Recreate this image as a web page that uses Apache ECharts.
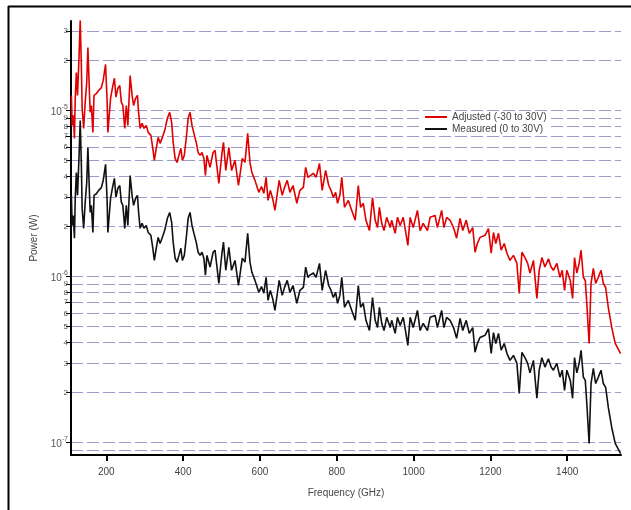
<!DOCTYPE html>
<html><head><meta charset="utf-8">
<script src="https://cdn.jsdelivr.net/npm/echarts@6/dist/echarts.min.js"></script>
<style>html,body{margin:0;padding:0;background:#fff}#c{width:631px;height:510px}</style>
</head><body><div id="c"></div>
<script>
// Frequency (GHz)
const freq = [109,111,114,117,119,122,125,129,132,135,137,141,145,149,152,156,158,161,165,168,174,180,187,192,198,202,204,208,211,216,221,225,230,235,239,243,248,252,256,262,267,271,276,281,284,288,293,298,304,309,316,321,325,330,335,340,345,352,359,365,370,374,379,384,389,394,398,403,408,413,418,423,428,434,439,444,449,454,458,462,
465,470,478,483,493,501,505,511,519,526,535,544,554,561,568,574,579,587,597,604,610,616,621,627,633,639,650,658,664,671,678,686,696,704,713,719,725,730,739,746,755,762,771,779,785,791,797,802,808,813,820,
830,839,848,856,862,869,876,885,893,900,906,911,917,923,930,939,943,952,958,965,973,980,985,991,999,1010,1017,1025,1036,1043,1056,1062,1073,1079,1086,1095,1104,1112,1121,1128,1137,1145,1154,1160,1166,1173,
1186,1195,1202,1208,1214,1221,1228,1236,1243,1251,1260,1269,1275,1282,1290,1297,1303,1312,1321,1327,1334,1342,1351,1358,1364,1373,1381,1387,1393,1399,1408,1414,1419,1425,1431,1436,1442,1447,1451,1457,1462,1468,1474,1481,1488,1494,1500,1507,1516,1525,1539];

// Adjusted (-30 to 30V), Power (W)
const adjusted = [12.3e-6,8.12e-6,9.33e-6,6.78e-6,11.8e-6,16.9e-6,12.3e-6,21.4e-6,34.8e-6,18.7e-6,10.3e-6,7.79e-6,11.2e-6,14.8e-6,23.9e-6,12.8e-6,9.73e-6,10.7e-6,7.37e-6,12.3e-6,12.6e-6,13.2e-6,13.7e-6,15.2e-6,18.9e-6,11.5e-6,7.37e-6,7.27e-6,11.8e-6,13.7e-6,15.6e-6,12.0e-6,13.6e-6,14.1e-6,11.2e-6,10.7e-6,7.79e-6,10.7e-6,8.12e-6,16.2e-6,12.3e-6,10.7e-6,11.8e-6,12.3e-6,9.73e-6,7.79e-6,8.36e-6,7.79e-6,8.12e-6,7.37e-6,7.07e-6,5.91e-6,5.00e-6,5.91e-6,6.88e-6,6.33e-6,6.78e-6,7.58e-6,8.96e-6,9.73e-6,8.47e-6,6.42e-6,5.14e-6,4.86e-6,5.36e-6,5.91e-6,5.00e-6,5.36e-6,6.78e-6,8.96e-6,9.73e-6,8.12e-6,7.27e-6,6.42e-6,5.58e-6,5.36e-6,5.58e-6,5.14e-6,4.06e-6,5.36e-6,
5.28e-6,4.54e-6,5.58e-6,5.74e-6,3.63e-6,5.51e-6,6.42e-6,4.35e-6,5.99e-6,4.35e-6,5.00e-6,3.53e-6,5.14e-6,4.86e-6,7.27e-6,4.86e-6,4.23e-6,3.79e-6,3.21e-6,3.48e-6,3.17e-6,3.95e-6,2.87e-6,3.30e-6,2.95e-6,2.50e-6,3.79e-6,3.08e-6,3.44e-6,3.79e-6,3.21e-6,3.53e-6,2.76e-6,3.30e-6,3.44e-6,4.54e-6,3.95e-6,4.06e-6,4.18e-6,3.95e-6,4.79e-6,3.30e-6,4.35e-6,3.53e-6,3.30e-6,2.99e-6,3.21e-6,2.76e-6,3.08e-6,3.95e-6,2.61e-6,
2.87e-6,2.50e-6,2.18e-6,3.53e-6,2.61e-6,2.76e-6,2.18e-6,1.89e-6,2.99e-6,2.18e-6,1.97e-6,2.61e-6,2.09e-6,1.89e-6,2.27e-6,1.97e-6,2.18e-6,1.82e-6,2.27e-6,2.03e-6,2.27e-6,1.82e-6,1.54e-6,2.27e-6,1.97e-6,2.50e-6,1.89e-6,2.09e-6,1.89e-6,2.27e-6,2.33e-6,1.97e-6,2.50e-6,1.97e-6,2.27e-6,2.18e-6,1.97e-6,1.70e-6,2.24e-6,1.89e-6,2.18e-6,1.82e-6,1.97e-6,1.40e-6,1.58e-6,1.72e-6,
1.77e-6,1.94e-6,1.38e-6,1.84e-6,1.58e-6,1.82e-6,1.44e-6,1.58e-6,1.38e-6,1.25e-6,1.34e-6,1.20e-6,0.790e-6,1.40e-6,1.30e-6,1.20e-6,1.05e-6,1.25e-6,0.738e-6,1.09e-6,1.30e-6,1.14e-6,1.28e-6,1.14e-6,1.09e-6,1.20e-6,0.990e-6,1.09e-6,0.824e-6,1.09e-6,0.946e-6,0.738e-6,1.30e-6,1.05e-6,1.20e-6,1.44e-6,0.990e-6,0.946e-6,0.688e-6,0.396e-6,0.908e-6,1.12e-6,0.908e-6,0.990e-6,1.09e-6,0.908e-6,0.859e-6,0.650e-6,0.493e-6,0.396e-6,0.343e-6];

// Measured (0 to 30V), Power (W)
const measured = [3.08e-6,2.03e-6,2.33e-6,1.70e-6,2.95e-6,4.23e-6,3.08e-6,5.35e-6,8.70e-6,4.68e-6,2.58e-6,1.95e-6,2.80e-6,3.70e-6,5.98e-6,3.20e-6,2.43e-6,2.68e-6,1.84e-6,3.08e-6,3.15e-6,3.30e-6,3.43e-6,3.80e-6,4.73e-6,2.88e-6,1.84e-6,1.82e-6,2.95e-6,3.43e-6,3.90e-6,3.00e-6,3.40e-6,3.53e-6,2.80e-6,2.68e-6,1.95e-6,2.68e-6,2.03e-6,4.05e-6,3.08e-6,2.68e-6,2.95e-6,3.08e-6,2.43e-6,1.95e-6,2.09e-6,1.95e-6,2.03e-6,1.84e-6,1.77e-6,1.48e-6,1.25e-6,1.48e-6,1.72e-6,1.58e-6,1.70e-6,1.90e-6,2.24e-6,2.43e-6,2.12e-6,1.61e-6,1.29e-6,1.22e-6,1.34e-6,1.48e-6,1.25e-6,1.34e-6,1.70e-6,2.24e-6,2.43e-6,2.03e-6,1.82e-6,1.61e-6,1.40e-6,1.34e-6,1.40e-6,1.29e-6,1.02e-6,1.34e-6,
1.32e-6,1.14e-6,1.40e-6,1.44e-6,0.908e-6,1.38e-6,1.61e-6,1.09e-6,1.50e-6,1.09e-6,1.25e-6,0.883e-6,1.29e-6,1.22e-6,1.82e-6,1.22e-6,1.06e-6,0.948e-6,0.803e-6,0.870e-6,0.793e-6,0.988e-6,0.718e-6,0.825e-6,0.738e-6,0.625e-6,0.948e-6,0.770e-6,0.860e-6,0.948e-6,0.803e-6,0.883e-6,0.690e-6,0.825e-6,0.860e-6,1.14e-6,0.988e-6,1.02e-6,1.05e-6,0.988e-6,1.20e-6,0.825e-6,1.09e-6,0.883e-6,0.825e-6,0.748e-6,0.803e-6,0.690e-6,0.770e-6,0.988e-6,0.653e-6,
0.718e-6,0.625e-6,0.545e-6,0.883e-6,0.653e-6,0.690e-6,0.545e-6,0.473e-6,0.748e-6,0.545e-6,0.493e-6,0.653e-6,0.523e-6,0.473e-6,0.568e-6,0.493e-6,0.545e-6,0.455e-6,0.568e-6,0.508e-6,0.568e-6,0.455e-6,0.385e-6,0.568e-6,0.493e-6,0.625e-6,0.473e-6,0.523e-6,0.473e-6,0.568e-6,0.583e-6,0.493e-6,0.625e-6,0.493e-6,0.568e-6,0.545e-6,0.493e-6,0.425e-6,0.560e-6,0.473e-6,0.545e-6,0.455e-6,0.493e-6,0.350e-6,0.395e-6,0.430e-6,
0.443e-6,0.485e-6,0.345e-6,0.460e-6,0.395e-6,0.455e-6,0.360e-6,0.395e-6,0.345e-6,0.313e-6,0.335e-6,0.300e-6,0.198e-6,0.350e-6,0.325e-6,0.300e-6,0.263e-6,0.313e-6,0.185e-6,0.273e-6,0.325e-6,0.285e-6,0.320e-6,0.285e-6,0.273e-6,0.300e-6,0.248e-6,0.273e-6,0.206e-6,0.273e-6,0.237e-6,0.185e-6,0.325e-6,0.263e-6,0.300e-6,0.360e-6,0.248e-6,0.237e-6,0.172e-6,0.099e-6,0.227e-6,0.280e-6,0.227e-6,0.248e-6,0.273e-6,0.227e-6,0.215e-6,0.163e-6,0.123e-6,0.099e-6,0.0858e-6];

const seriesNames = ['Adjusted (-30 to 30V)', 'Measured (0 to 30V)'];
const xTicks = [200, 400, 600, 800, 1000, 1200, 1400];
const yTicks = [9e-8, 1e-7, 2e-7, 3e-7, 4e-7, 5e-7, 6e-7, 7e-7, 8e-7, 9e-7,
  1e-6, 2e-6, 3e-6, 4e-6, 5e-6, 6e-6, 7e-6, 8e-6, 9e-6, 1e-5, 2e-5, 3e-5];

function yLabel(v) {
  const e = Math.floor(Math.log10(v) + 1e-9);
  const m = Math.round(v / Math.pow(10, e));
  if (m === 1) return '{maj|10}{sup|' + e + '}';
  return '{min|' + m + '}';
}

const FONT = '"Liberation Sans", Arial, sans-serif';
const chart = echarts.init(document.getElementById('c'), null, {renderer: 'canvas'});
chart.setOption({
  animation: false,
  backgroundColor: '#fff',
  textStyle: {fontFamily: FONT},
  grid: {left: 71, right: 10, top: 21, bottom: 55, containLabel: false},
  graphic: [
    {type: 'line', shape: {x1: 8, y1: 6.5, x2: 640, y2: 6.5}, style: {stroke: '#000', lineWidth: 2}},
    {type: 'line', shape: {x1: 8.5, y1: 6, x2: 8.5, y2: 520}, style: {stroke: '#000', lineWidth: 2}}
  ],
  legend: {
    orient: 'vertical', left: 421, top: 111,
    data: seriesNames,
    icon: 'rect', itemWidth: 22, itemHeight: 2, itemGap: 2,
    backgroundColor: '#fff', padding: [1, 4, 1, 4],
    textStyle: {fontSize: 10, color: '#444', fontFamily: FONT}
  },
  xAxis: {
    type: 'value', min: 108, max: 1540,
    name: 'Frequency (GHz)', nameLocation: 'middle', nameGap: 33,
    nameTextStyle: {fontSize: 10, color: '#444', fontFamily: FONT},
    axisLine: {show: true, lineStyle: {color: '#000', width: 2}},
    axisTick: {show: true, length: 6, inside: false, customValues: xTicks, lineStyle: {color: '#000', width: 2}},
    axisLabel: {customValues: xTicks, fontSize: 10, color: '#444', margin: 12, fontFamily: FONT,
      formatter: v => String(v)},
    splitLine: {show: false}
  },
  yAxis: {
    type: 'log', logBase: 10, min: 8.43e-8, max: 3.45e-5,
    name: 'Power (W)', nameLocation: 'middle', nameGap: 32,
    nameTextStyle: {fontSize: 10, color: '#444', fontFamily: FONT},
    axisLine: {show: true, lineStyle: {color: '#000', width: 2}},
    axisTick: {show: true, length: 5, customValues: yTicks, lineStyle: {color: '#000', width: 1}},
    axisLabel: {
      customValues: yTicks, margin: 3, formatter: yLabel,
      rich: {
        maj: {fontSize: 10, color: '#555', lineHeight: 14, verticalAlign: 'bottom', fontFamily: FONT},
        sup: {fontSize: 7, color: '#555', lineHeight: 8, verticalAlign: 'top', fontFamily: FONT},
        min: {fontSize: 8, color: '#555', fontFamily: FONT}
      }
    },
    splitLine: {show: true, lineStyle: {color: '#9a9acb', width: 1, type: [12, 4]}}
  },
  series: [
    {name: seriesNames[0], type: 'line', showSymbol: false, symbol: 'none', color: '#e00000',
     lineStyle: {width: 1.6, color: '#e00000'}, data: freq.map((f, i) => [f, adjusted[i]])},
    {name: seriesNames[1], type: 'line', showSymbol: false, symbol: 'none', color: '#111',
     lineStyle: {width: 1.6, color: '#111'}, data: freq.map((f, i) => [f, measured[i]])}
  ]
});
</script></body></html>
